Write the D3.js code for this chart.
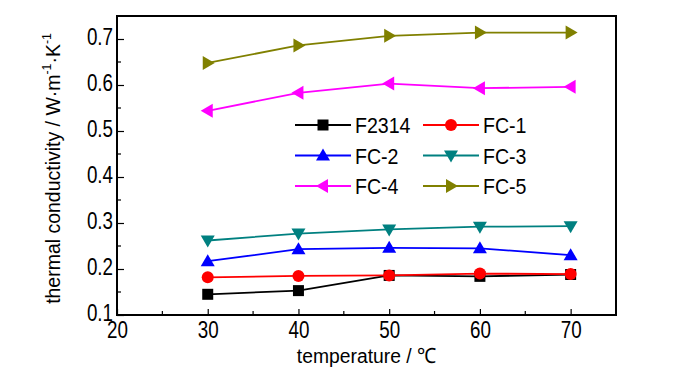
<!DOCTYPE html>
<meta charset="utf-8">
<head>
<style>
  body { margin: 0; background: #fff; }
  text { font-family: "Liberation Sans", Arial, sans-serif; fill: #000; }
  .series { fill: none; stroke-width: 1.8px; }
</style>
</head>
<body>
<div id="content"></div>
<script src="https://d3js.org/d3.v7.min.js"></script>
<script>
// temperature (°C)
var temps = [30, 40, 50, 60, 70];

// thermal conductivity, W m-1 K-1
var f2314 = [0.145, 0.153, 0.186, 0.184, 0.188];
var fc1 = [0.182, 0.185, 0.186, 0.190, 0.189];
var fc2 = [0.217, 0.243, 0.246, 0.245, 0.230];
var fc3 = [0.262, 0.277, 0.286, 0.292, 0.293];
var fc4 = [0.544, 0.583, 0.603, 0.593, 0.596];
var fc5 = [0.648, 0.686, 0.707, 0.714, 0.714];

var seriesNames = ["F2314", "FC-1", "FC-2", "FC-3", "FC-4", "FC-5"];
var seriesValues = [f2314, fc1, fc2, fc3, fc4, fc5];
var colors = ["#000000", "#ff0000", "#0000ff", "#008080", "#ff00ff", "#808000"];
var shapes = ["square", "circle", "up", "down", "left", "right"];

var xTicks = [20, 30, 40, 50, 60, 70];
var yTicks = [0.1, 0.2, 0.3, 0.4, 0.5, 0.6, 0.7];

var W = 700, H = 374;
var margin = {top: 16, right: 84, bottom: 59, left: 117};

// the original text is narrow and tall, so squeeze it horizontally
var tickSx = 0.8, legSx = 0.87, titleSx = 0.92;

var svg = d3.select("#content").append("svg")
    .attr("width", W).attr("height", H);

var x = d3.scaleLinear().domain([20, 75]).range([margin.left, W - margin.right]);
var y = d3.scaleLinear().domain([0.1, 0.75]).range([H - margin.bottom, margin.top]);

// marker path, centred on 0,0
function marker(shape) {
  if (shape == "square") return "M-5.5,-5.5H5.5V5.5H-5.5Z";
  if (shape == "circle") return d3.symbol().type(d3.symbolCircle).size(Math.PI * 36)();
  if (shape == "up") return "M0,-7L7,5L-7,5Z";
  if (shape == "down") return "M0,7L7,-5L-7,-5Z";
  if (shape == "left") return "M-7,0L5,-7L5,7Z";
  return "M7,0L-5,-7L-5,7Z";
}

// axes (ticks pointing inward)
var xAxis = d3.axisBottom(x).tickValues(xTicks).tickSize(-6).tickFormat(d3.format("d"));
var yAxis = d3.axisLeft(y).tickValues(yTicks).tickSize(-7).tickFormat(d3.format(".1f"));

var gx = svg.append("g").attr("transform", "translate(0," + (H - margin.bottom) + ")").call(xAxis);
var gy = svg.append("g").attr("transform", "translate(" + margin.left + ",0)").call(yAxis);

// minor ticks
gx.selectAll(".minor").data([25, 35, 45, 55, 65]).enter().append("line")
    .attr("x1", function(d) { return x(d); }).attr("x2", function(d) { return x(d); })
    .attr("y1", 0).attr("y2", -4).attr("stroke", "#000").attr("stroke-width", 1.2);
gy.selectAll(".minor").data([0.15, 0.25, 0.35, 0.45, 0.55, 0.65]).enter().append("line")
    .attr("y1", function(d) { return y(d); }).attr("y2", function(d) { return y(d); })
    .attr("x1", 0).attr("x2", 4).attr("stroke", "#000").attr("stroke-width", 1.2);

[gx, gy].forEach(function(g) {
  g.select(".domain").remove();
  g.selectAll(".tick line").attr("stroke-width", 1.2);
  g.selectAll(".tick text").style("font-size", "23.5px").attr("fill", "#000")
      .attr("transform", "scale(" + tickSx + ",1)");
});
gx.selectAll(".tick text").attr("y", 23).attr("dy", 0);
gy.selectAll(".tick text").attr("x", -4 / tickSx).attr("dy", 5.5);

// frame
svg.append("rect")
    .attr("x", margin.left).attr("y", margin.top)
    .attr("width", W - margin.right - margin.left)
    .attr("height", H - margin.bottom - margin.top)
    .attr("fill", "none").attr("stroke", "#000").attr("stroke-width", 2);

// series
var line = d3.line()
    .x(function(d, i) { return x(temps[i]); })
    .y(function(d) { return y(d); });

seriesValues.forEach(function(vals, k) {
  svg.append("path").attr("class", "series")
      .attr("d", line(vals)).attr("stroke", colors[k]);
  svg.selectAll(".m" + k).data(vals).enter().append("path")
      .attr("transform", function(d, i) { return "translate(" + x(temps[i]) + "," + y(d) + ")"; })
      .attr("d", marker(shapes[k]))
      .attr("fill", colors[k]);
});

// legend
var leg = svg.append("g");
seriesNames.forEach(function(name, k) {
  var col = k % 2, row = Math.floor(k / 2);
  var lx = col == 0 ? 295 : 423, ly = 125 + row * 30.5;
  var g = leg.append("g").attr("transform", "translate(" + lx + "," + ly + ")");
  g.append("line").attr("x1", 0).attr("x2", 56).attr("y1", 0).attr("y2", 0)
      .attr("stroke", colors[k]).attr("stroke-width", 1.8);
  g.append("path").attr("transform", "translate(28,0)").attr("d", marker(shapes[k]))
      .attr("fill", colors[k]);
  g.append("text").attr("transform", "scale(" + legSx + ",1)")
      .attr("x", 60 / legSx).attr("y", 8)
      .style("font-size", "22.5px").text(name);
});

// axis titles
svg.append("text")
    .attr("transform", "translate(" + ((margin.left + W - margin.right) / 2) + ",363) scale(" + titleSx + ",1)")
    .attr("text-anchor", "middle").style("font-size", "21px")
    .text("temperature / \u2103");

var yt = svg.append("text")
    .attr("transform", "translate(60," + ((margin.top + H - margin.bottom) / 2 + 3) + ") rotate(-90) scale(0.95,1)")
    .attr("text-anchor", "middle").style("font-size", "20.5px");
yt.append("tspan").text("thermal conductivity / W\u00b7m");
yt.append("tspan").attr("dy", "-9").style("font-size", "13px").text("-1");
yt.append("tspan").attr("dy", "9").text("\u00b7K");
yt.append("tspan").attr("dy", "-9").style("font-size", "13px").text("-1");
</script>
</body>
</html>
